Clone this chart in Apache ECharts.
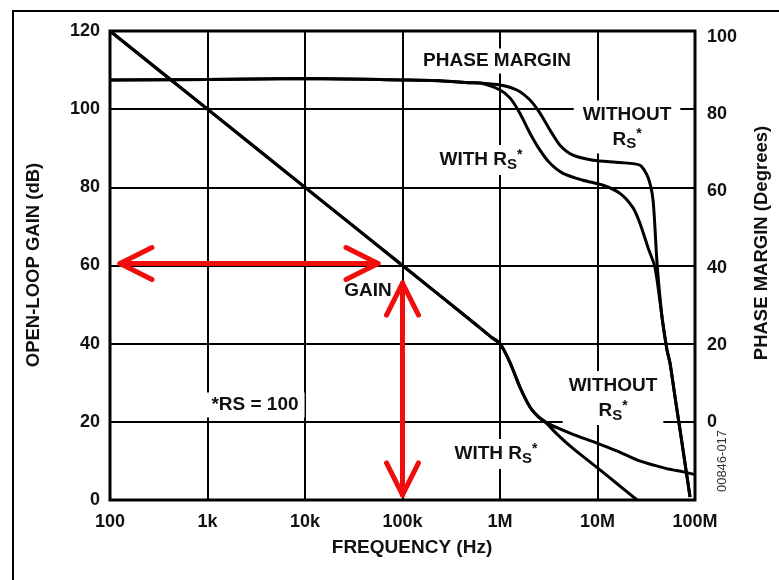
<!DOCTYPE html>
<html>
<head>
<meta charset="utf-8">
<script src="https://cdn.jsdelivr.net/npm/echarts@6/dist/echarts.min.js"></script>
<style>
  html, body { margin: 0; padding: 0; background: #fff; }
  #chart { width: 779px; height: 580px; }
</style>
</head>
<body>
<div id="chart"></div>
<script>
// Frequency decades (Hz) and their printed labels
const freqTicks = [1e2, 1e3, 1e4, 1e5, 1e6, 1e7, 1e8];
const freqTickLabels = ['100', '1k', '10k', '100k', '1M', '10M', '100M'];
// Left axis (open-loop gain, dB) and right axis (phase margin, degrees) labels
const gainTicks = [0, 20, 40, 60, 80, 100, 120];
const phaseTicks = [0, 20, 40, 60, 80, 100];

// Open-loop gain, [frequency Hz, dB]
const gainWithRs = [
  [1e2, 120], [1e3, 100], [1e4, 80], [1e5, 60], [5e5, 46], [8e5, 41.8], [1e6, 40],
  [1.27e6, 35.1], [1.6e6, 28.9], [2.03e6, 23.8], [2.45e6, 21.4], [2.9e6, 20],
  [3.8e6, 17.0], [5.6e6, 13.2], [1e7, 8.2], [1.6e7, 4.1], [2.55e7, 0]
];
const gainWithoutRs = [
  [1e2, 120], [1e3, 100], [1e4, 80], [1e5, 60], [5e5, 46], [8e5, 41.8], [1e6, 40],
  [1.27e6, 35.1], [1.6e6, 28.9], [2.03e6, 23.8], [2.45e6, 21.4], [2.9e6, 20],
  [4e6, 18.3], [5.6e6, 16.8], [1e7, 14.5], [1.6e7, 12.5], [2.7e7, 10.0],
  [5e7, 8.1], [7.6e7, 7.2], [1e8, 6.5]
];

// Phase margin, [frequency Hz, degrees]
const phaseWithRs = [
  [1e2, 88.8], [1e3, 88.9], [1e4, 89.2], [1e5, 88.8], [2.4e5, 88.6], [4.9e5, 88.1],
  [6.2e5, 88.0], [1e6, 86.2], [1.27e6, 84.1], [1.6e6, 80.2], [2.03e6, 75.0],
  [2.57e6, 70.6], [3.26e6, 67.2], [4.43e6, 64.6], [7.1e6, 62.8], [1.14e7, 61.5],
  [1.7e7, 59.4], [2.31e7, 55.7], [2.73e7, 51.6], [3.3e7, 45.3], [3.89e7, 40.2],
  [4.59e7, 27.3], [5.16e7, 18.8], [5.54e7, 15.4], [6.24e7, 6.6], [7.02e7, -1.9],
  [7.89e7, -10.5], [8.89e7, -19.3]
];
const phaseWithoutRs = [
  [1e2, 88.8], [1e3, 88.9], [1e4, 89.2], [1e5, 88.8], [2.4e5, 88.6], [4.9e5, 88.1],
  [6.2e5, 88.0], [1e6, 87.5], [1.49e6, 86.2], [2.03e6, 83.6], [2.57e6, 80.2],
  [3.26e6, 75.8], [4.12e6, 71.9], [5.61e6, 69.3], [9e6, 68.0], [1.7e7, 67.4],
  [2.73e7, 66.7], [3.3e7, 63.5], [3.71e7, 57.7], [4.08e7, 41.3], [4.59e7, 27.3],
  [5.16e7, 18.8], [5.54e7, 15.4], [6.24e7, 6.6], [7.02e7, -1.9], [7.89e7, -10.5],
  [8.89e7, -19.3]
];

// Red double-headed guide arrows: [f1, dB1, f2, dB2]
const guideArrows = [
  [126.6, 60.5, 5.61e4, 60.5],
  [1e5, 1.3, 1e5, 55.5]
];

const FONT = '"Liberation Sans", Arial, Helvetica, sans-serif';
const INK = '#111';

const rsRich = {
  r: { fontFamily: FONT, fontWeight: 'bold', fontSize: 19, lineHeight: 24, fill: INK },
  s: { fontFamily: FONT, fontWeight: 'bold', fontSize: 15, lineHeight: 15, verticalAlign: 'bottom', fill: INK },
  u: { fontFamily: FONT, fontWeight: 'bold', fontSize: 14, lineHeight: 14, verticalAlign: 'top', fill: INK }
};
const RS = '{r|R}{s|S}{u|*}';

function note(x, y, text, extra, rotation) {
  return {
    type: 'text', x: x, y: y, z: 50, rotation: rotation || 0,
    style: Object.assign({
      text: text,
      font: 'bold 19px ' + FONT,
      fill: INK,
      align: 'center',
      verticalAlign: 'middle',
      backgroundColor: '#fff',
      padding: [3, 6],
      rich: rsRich
    }, extra || {})
  };
}

const solid = { color: '#000', width: 3 };
const curve = { type: 'line', showSymbol: false, smooth: 0.25, lineStyle: solid, z: 5 };

const chart = echarts.init(document.getElementById('chart'), null, { renderer: 'canvas' });
chart.setOption({
  animation: false,
  backgroundColor: '#fff',
  grid: {
    left: 110, right: 84, top: 31, bottom: 80,
    show: true, borderColor: '#000', borderWidth: 3, backgroundColor: 'transparent',
    containLabel: false, outerBoundsMode: 'none'
  },
  xAxis: {
    type: 'log', logBase: 10, min: freqTicks[0], max: freqTicks[freqTicks.length - 1],
    axisLine: { show: false }, axisTick: { show: false }, minorTick: { show: false },
    splitLine: { show: true, lineStyle: { color: '#000', width: 2 } },
    axisLabel: {
      margin: 13, color: INK, fontFamily: FONT, fontWeight: 'bold', fontSize: 18,
      formatter: v => {
        const i = freqTicks.findIndex(t => Math.abs(Math.log10(t) - Math.log10(v)) < 1e-6);
        return i >= 0 ? freqTickLabels[i] : '';
      }
    }
  },
  yAxis: [
    {
      type: 'value', min: gainTicks[0], max: gainTicks[gainTicks.length - 1], interval: 20,
      axisLine: { show: false }, axisTick: { show: false },
      splitLine: { show: true, lineStyle: { color: '#000', width: 2 } },
      axisLabel: { margin: 10, color: INK, fontFamily: FONT, fontWeight: 'bold', fontSize: 18 }
    },
    {
      type: 'value', position: 'right', min: -20.1, max: 101.5,
      axisLine: { show: false }, axisTick: { show: false }, splitLine: { show: false },
      axisLabel: {
        margin: 12, color: INK, fontFamily: FONT, fontWeight: 'bold', fontSize: 18,
        customValues: phaseTicks
      }
    }
  ],
  series: [
    Object.assign({ name: 'Gain with RS', data: gainWithRs, yAxisIndex: 0 }, curve),
    Object.assign({ name: 'Gain without RS', data: gainWithoutRs, yAxisIndex: 0 }, curve),
    Object.assign({ name: 'Phase with RS', data: phaseWithRs, yAxisIndex: 1 }, curve),
    Object.assign({ name: 'Phase without RS', data: phaseWithoutRs, yAxisIndex: 1 }, curve),
    {
      name: 'Guides', type: 'custom', data: guideArrows, yAxisIndex: 0,
      encode: { x: [0, 2], y: [1, 3] }, z: 60, clip: false,
      renderItem: function (params, api) {
        const a = api.coord([api.value(0), api.value(1)]);
        const b = api.coord([api.value(2), api.value(3)]);
        const dx = b[0] - a[0], dy = b[1] - a[1];
        const len = Math.hypot(dx, dy) || 1;
        const ux = dx / len, uy = dy / len, px = -uy, py = ux;
        const L = 32, W = 16;
        const head = (t, d) => [
          [t[0] + d * ux * L + px * W, t[1] + d * uy * L + py * W],
          [t[0], t[1]],
          [t[0] + d * ux * L - px * W, t[1] + d * uy * L - py * W]
        ];
        const style = { stroke: '#f20d0d', lineWidth: 5, fill: null, lineCap: 'round', lineJoin: 'round' };
        return {
          type: 'group',
          children: [
            { type: 'polyline', shape: { points: [a, b] }, style: style },
            { type: 'polyline', shape: { points: head(a, 1) }, style: style },
            { type: 'polyline', shape: { points: head(b, -1) }, style: style }
          ]
        };
      }
    }
  ],
  graphic: [
    // outer frame
    { type: 'rect', z: 1, silent: true, shape: { x: 13, y: 11, width: 900, height: 700 },
      style: { fill: null, stroke: '#000', lineWidth: 2 } },
    note(497, 61, 'PHASE MARGIN'),
    note(627, 127, 'WITHOUT\n' + RS, { lineHeight: 25, padding: [2, 9] }),
    note(481, 160, 'WITH ' + RS),
    note(368, 291, 'GAIN', { backgroundColor: null }),
    note(255, 405, '*RS = 100'),
    note(613, 398, 'WITHOUT\n' + RS, { lineHeight: 26, padding: [2, 6] }),
    note(496, 454, 'WITH ' + RS),
    note(722, 461, '00846-017', { font: '13px ' + FONT, backgroundColor: null, padding: 0, fill: '#333' }, Math.PI / 2),
    // axis titles
    note(34, 265, 'OPEN-LOOP GAIN (dB)', { font: 'bold 18.5px ' + FONT, backgroundColor: null, padding: 0 }, Math.PI / 2),
    note(762, 243, 'PHASE MARGIN (Degrees)', { font: 'bold 18.5px ' + FONT, backgroundColor: null, padding: 0 }, Math.PI / 2),
    note(412, 548, 'FREQUENCY (Hz)', { font: 'bold 19px ' + FONT, backgroundColor: null, padding: 0 })
  ]
});
</script>
</body>
</html>
